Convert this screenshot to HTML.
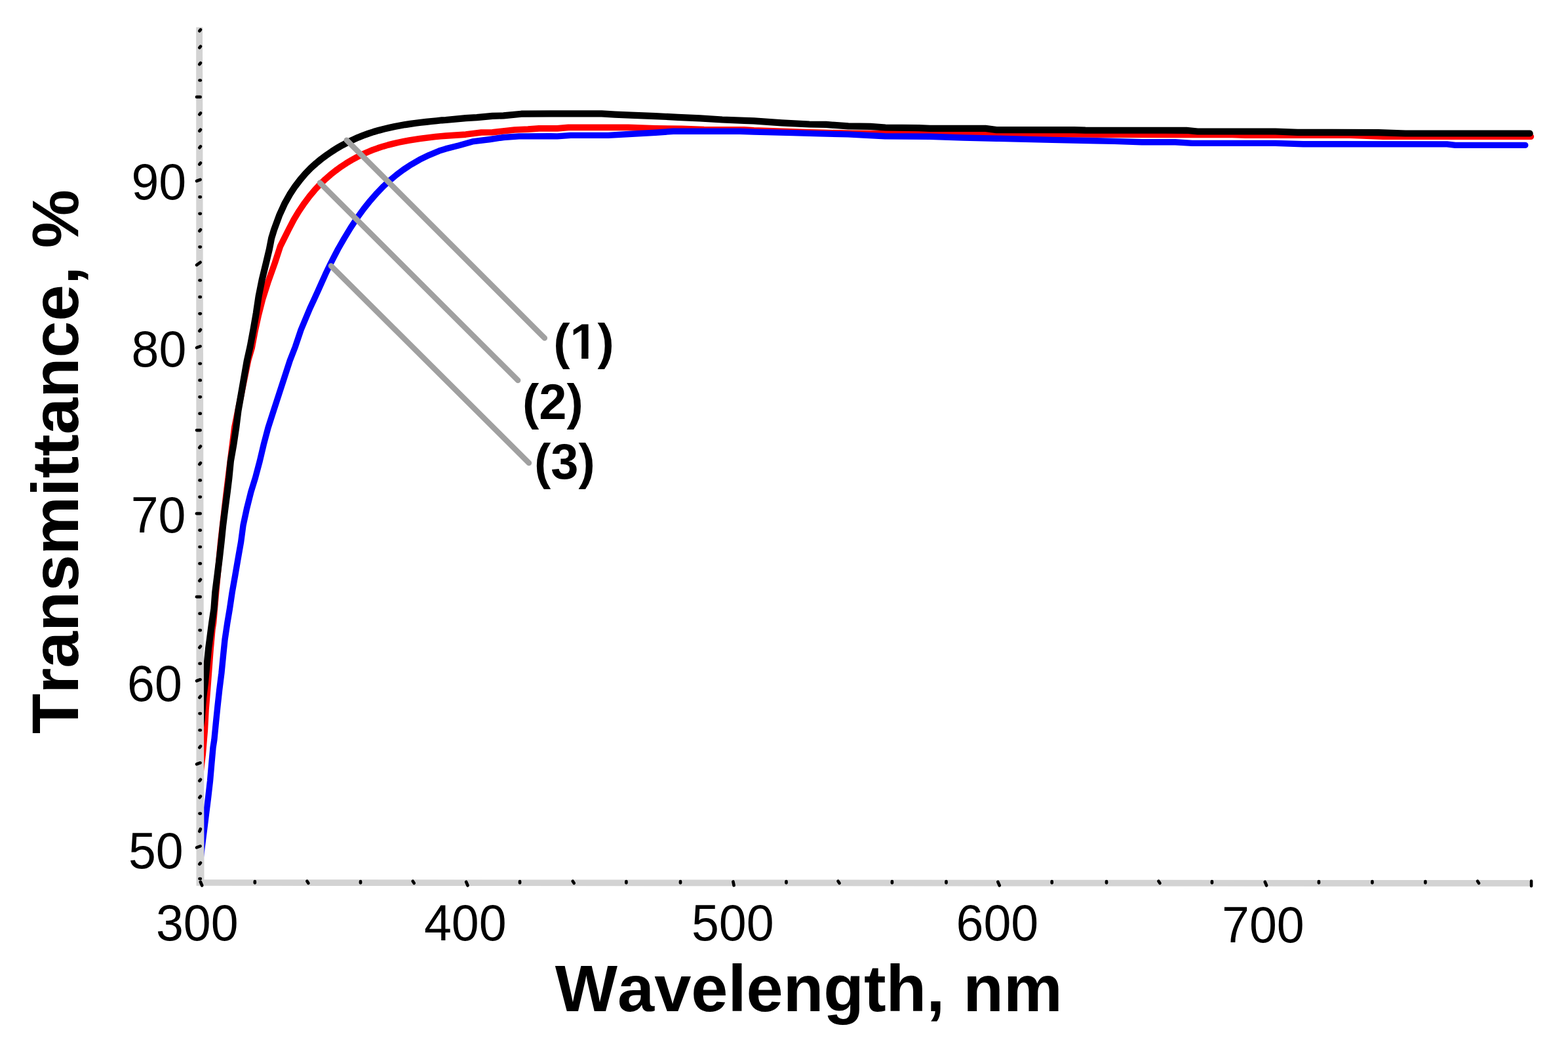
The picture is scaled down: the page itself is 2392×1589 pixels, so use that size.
<!DOCTYPE html>
<html><head><meta charset="utf-8"><title>Transmittance vs Wavelength</title>
<style>html,body{margin:0;padding:0;background:#fff;}svg{display:block;}text{font-kerning:none;}</style></head>
<body>
<svg width="2392" height="1589" viewBox="0 0 2392 1589">
<rect width="2392" height="1589" fill="#fff"/>
<g fill="none" stroke-linejoin="round" stroke-linecap="round" stroke-width="10">
<polyline stroke="#ff0000" stroke-width="9.6" points="305.4,1188.0 306.1,1177.0 309.3,1150.0 312.4,1113.0 314.0,1082.4 316.5,1051.8 318.8,1021.2 321.1,990.6 323.9,960.0 325.5,950.0 329.6,903.0 336.7,826.5 345.5,750.0 357.7,652.0 378.5,550.0 384.1,531.0 388.9,505.5 394.5,480.0 400.5,456.5 408.6,431.0 417.7,405.5 419.3,401.0 427.6,375.5 440.3,350.2 448.3,334.7 456.3,321.6 464.3,309.8 472.3,299.1 480.3,289.6 488.3,281.0 496.3,273.3 504.3,266.3 512.3,260.0 520.3,254.2 528.3,248.9 536.3,244.1 544.3,239.7 552.3,235.7 560.3,232.1 568.3,228.8 576.3,225.9 584.3,223.3 592.3,221.0 600.3,219.0 608.3,217.1 616.3,215.5 624.3,214.1 632.3,212.8 640.3,211.6 648.3,210.5 656.3,209.6 664.3,208.6 672.3,207.7 680.0,207.1 710.5,205.1 734.2,202.0 751.2,201.7 785.0,198.0 805.4,197.1 822.3,195.9 850.0,195.9 867.0,194.4 958.6,194.4 1000.0,195.8 1040.0,196.3 1074.0,197.6 1135.0,197.9 1150.0,198.9 1234.7,201.9 1300.0,203.3 1520.0,204.2 1700.0,205.2 1880.0,205.5 1900.0,206.2 2060.0,206.3 2110.0,208.3 2335.4,208.3"/>
<polyline stroke="#0000ff" stroke-width="9.4" points="305.0,1318.0 308.0,1293.0 311.2,1267.6 314.4,1242.0 317.6,1216.5 320.5,1191.0 322.7,1165.5 325.0,1140.0 326.8,1128.6 329.3,1103.0 331.9,1077.6 334.7,1052.0 337.9,1026.5 340.4,1001.0 343.0,975.5 346.8,950.0 350.4,928.6 354.2,903.0 358.7,877.6 363.1,852.0 367.6,826.5 371.0,801.0 376.5,775.5 382.9,750.0 389.5,728.6 396.3,703.0 402.3,677.6 409.1,652.0 417.3,626.5 425.6,601.0 433.9,575.5 442.2,550.0 450.5,528.6 459.1,503.0 468.7,480.0 472.9,470.0 479.2,456.5 485.0,443.8 490.7,431.0 496.4,418.3 502.5,405.5 508.9,392.8 515.6,380.0 519.6,373.0 525.0,363.6 535.0,347.1 545.0,332.0 555.0,318.3 565.0,305.8 575.0,294.4 585.0,284.1 595.0,274.8 605.0,266.5 615.0,259.0 625.0,252.3 640.0,243.6 655.0,236.3 670.0,230.1 680.0,226.9 700.3,221.8 720.7,215.9 747.8,212.5 768.1,209.5 791.8,207.9 840.0,207.8 850.0,207.9 870.5,206.4 928.0,206.4 955.2,204.7 1000.0,202.2 1027.0,200.3 1128.8,200.3 1150.0,201.1 1209.3,202.6 1251.7,203.9 1294.0,204.9 1350.0,207.7 1418.6,208.3 1469.4,210.0 1520.2,211.2 1605.0,213.4 1672.7,214.7 1700.0,215.4 1742.0,216.8 1793.0,216.8 1818.6,218.4 1945.6,218.4 1988.0,219.8 2207.5,219.9 2220.0,221.4 2326.8,221.4"/>
<polyline stroke="#000" stroke-width="10.2" points="305.0,1115.0 307.5,1098.0 310.0,1064.8 313.1,1039.3 315.6,1013.8 318.2,988.0 323.2,950.0 326.4,928.6 328.3,903.0 331.5,877.6 334.7,852.0 337.6,826.5 340.2,801.0 343.4,775.5 346.8,750.0 349.4,728.6 351.9,703.0 356.4,677.6 360.2,652.0 363.4,626.5 367.9,601.0 372.3,575.5 376.8,550.0 381.6,528.6 386.4,503.0 390.8,477.6 394.6,452.0 399.7,426.5 405.9,401.0 410.9,380.0 414.2,362.9 418.1,350.2 426.1,328.4 434.1,310.8 442.1,296.4 450.1,284.3 458.1,273.8 466.1,264.5 474.1,256.3 482.1,249.1 490.1,242.5 498.1,236.6 506.1,231.1 514.1,226.0 522.1,221.4 530.1,217.2 538.1,213.3 546.1,209.7 554.1,206.5 562.1,203.6 570.1,201.0 578.1,198.7 586.1,196.6 594.1,194.7 602.1,193.0 610.1,191.5 618.1,190.1 626.1,188.9 634.1,187.8 642.1,186.8 650.1,185.9 658.1,185.0 666.1,184.2 674.1,183.3 680.0,183.0 710.5,180.1 727.4,179.1 751.2,176.9 768.1,176.4 795.2,173.7 840.0,173.4 917.9,173.4 938.3,174.7 962.0,175.7 1000.0,177.1 1033.9,178.8 1067.8,180.3 1101.7,182.5 1135.5,183.9 1150.0,184.4 1192.4,187.4 1234.7,189.5 1260.1,189.9 1294.0,192.4 1327.9,192.9 1350.8,194.5 1401.7,195.1 1418.6,195.9 1503.3,195.9 1520.2,198.1 1638.8,198.1 1655.8,198.6 1810.0,198.8 1827.0,200.5 1945.6,200.5 1979.5,201.8 2103.0,202.1 2144.0,203.5 2333.7,203.5"/>
</g>
<g stroke="#a0a0a0" stroke-width="8.5" stroke-linecap="round">
<line x1="528.8" y1="213.8" x2="830.8" y2="515.6"/>
<line x1="488" y1="278.7" x2="790.1" y2="580.1"/>
<line x1="505" y1="405.4" x2="806.9" y2="706"/>
</g>
<polygon fill="#d3d3d3" points="299.2,41.5 309,41.5 311.5,1341.2 2333,1342 2333,1351.8 299.5,1350.8"/>
<g stroke="#000" stroke-width="4.7" stroke-linecap="round">
<line x1="304.5" y1="1340.0" x2="305.8" y2="1340.0"/>
<line x1="304.3" y1="1317.8" x2="306.0" y2="1315.8"/>
<line x1="300" y1="1292.4" x2="305.6" y2="1290.4"/>
<line x1="304.3" y1="1267.8" x2="305.9" y2="1264.2"/>
<line x1="304.5" y1="1240.6" x2="305.8" y2="1240.6"/>
<line x1="304.3" y1="1216.2" x2="306.0" y2="1214.2"/>
<line x1="304.3" y1="1190.8" x2="306.0" y2="1188.8"/>
<line x1="300" y1="1165.3" x2="305.6" y2="1163.3"/>
<line x1="304.3" y1="1139.9" x2="306.0" y2="1137.9"/>
<line x1="304.5" y1="1113.5" x2="305.8" y2="1113.5"/>
<line x1="304.5" y1="1088.1" x2="305.8" y2="1088.1"/>
<line x1="304.3" y1="1063.7" x2="306.0" y2="1061.7"/>
<line x1="300" y1="1038.3" x2="305.6" y2="1036.3"/>
<line x1="304.5" y1="1011.9" x2="305.8" y2="1011.9"/>
<line x1="304.3" y1="987.5" x2="306.0" y2="985.5"/>
<line x1="304.5" y1="961.1" x2="305.8" y2="961.1"/>
<line x1="304.5" y1="935.7" x2="305.8" y2="935.7"/>
<line x1="300" y1="910.2" x2="305.6" y2="910.2"/>
<line x1="304.3" y1="885.8" x2="306.0" y2="883.8"/>
<line x1="304.5" y1="859.4" x2="305.8" y2="859.4"/>
<line x1="304.5" y1="834.0" x2="305.8" y2="834.0"/>
<line x1="304.5" y1="808.6" x2="305.8" y2="808.6"/>
<line x1="300" y1="783.2" x2="305.6" y2="783.2"/>
<line x1="304.5" y1="757.8" x2="305.8" y2="757.8"/>
<line x1="304.5" y1="732.4" x2="305.8" y2="732.4"/>
<line x1="304.3" y1="708.0" x2="306.0" y2="706.0"/>
<line x1="304.3" y1="682.6" x2="306.0" y2="680.6"/>
<line x1="300" y1="656.1" x2="305.6" y2="656.1"/>
<line x1="304.5" y1="630.7" x2="305.8" y2="630.7"/>
<line x1="304.5" y1="605.3" x2="305.8" y2="605.3"/>
<line x1="304.5" y1="579.9" x2="305.8" y2="579.9"/>
<line x1="304.5" y1="554.5" x2="305.8" y2="554.5"/>
<line x1="300" y1="530.1" x2="305.6" y2="528.1"/>
<line x1="304.3" y1="504.7" x2="306.0" y2="502.7"/>
<line x1="304.5" y1="478.3" x2="305.8" y2="478.3"/>
<line x1="304.5" y1="452.9" x2="305.8" y2="452.9"/>
<line x1="304.5" y1="427.5" x2="305.8" y2="427.5"/>
<line x1="300" y1="404.1" x2="305.6" y2="400.1"/>
<line x1="304.5" y1="376.6" x2="305.8" y2="376.6"/>
<line x1="304.3" y1="352.2" x2="306.0" y2="350.2"/>
<line x1="304.5" y1="325.8" x2="305.8" y2="325.8"/>
<line x1="304.5" y1="300.4" x2="305.8" y2="300.4"/>
<line x1="300" y1="276.0" x2="305.6" y2="274.0"/>
<line x1="304.3" y1="250.6" x2="306.0" y2="248.6"/>
<line x1="304.3" y1="225.2" x2="306.0" y2="223.2"/>
<line x1="304.3" y1="199.8" x2="306.0" y2="197.8"/>
<line x1="304.3" y1="174.4" x2="306.0" y2="172.4"/>
<line x1="300" y1="147.9" x2="305.6" y2="147.9"/>
<line x1="304.5" y1="122.5" x2="305.8" y2="122.5"/>
<line x1="304.3" y1="98.1" x2="306.0" y2="96.1"/>
<line x1="304.3" y1="72.7" x2="306.0" y2="70.7"/>
<line x1="304.3" y1="47.3" x2="306.0" y2="45.3"/>
<line x1="305.8" y1="1344.8" x2="308.2" y2="1350.3"/>
<line x1="388.8" y1="1344.1" x2="388.8" y2="1346.3"/>
<line x1="468.4" y1="1343.8" x2="470.4" y2="1346.8"/>
<line x1="550.0" y1="1344.1" x2="550.0" y2="1346.3"/>
<line x1="629.7" y1="1343.8" x2="631.7" y2="1346.8"/>
<line x1="711.1" y1="1344.8" x2="713.5" y2="1350.3"/>
<line x1="793.0" y1="1344.1" x2="793.0" y2="1346.3"/>
<line x1="873.7" y1="1343.8" x2="875.7" y2="1346.8"/>
<line x1="955.4" y1="1344.1" x2="955.4" y2="1346.3"/>
<line x1="1038.0" y1="1344.1" x2="1038.0" y2="1346.3"/>
<line x1="1118.4" y1="1344.5" x2="1119.6" y2="1350.2"/>
<line x1="1199.5" y1="1344.1" x2="1199.5" y2="1346.3"/>
<line x1="1278.5" y1="1343.8" x2="1280.5" y2="1346.8"/>
<line x1="1360.9" y1="1344.1" x2="1360.9" y2="1346.3"/>
<line x1="1443.5" y1="1344.1" x2="1443.5" y2="1346.3"/>
<line x1="1522.3" y1="1344.8" x2="1524.7" y2="1350.3"/>
<line x1="1604.7" y1="1344.1" x2="1604.7" y2="1346.3"/>
<line x1="1688.0" y1="1344.1" x2="1688.0" y2="1346.3"/>
<line x1="1767.4" y1="1343.8" x2="1769.4" y2="1346.8"/>
<line x1="1848.9" y1="1344.1" x2="1848.9" y2="1346.3"/>
<line x1="1929.7" y1="1344.8" x2="1932.1" y2="1350.3"/>
<line x1="2011.9" y1="1344.1" x2="2011.9" y2="1346.3"/>
<line x1="2093.4" y1="1344.1" x2="2093.4" y2="1346.3"/>
<line x1="2174.4" y1="1344.1" x2="2174.4" y2="1346.3"/>
<line x1="2254.0" y1="1343.8" x2="2256.0" y2="1346.8"/>
<line x1="2336.0" y1="1343.6" x2="2336.0" y2="1351.1"/>
</g>
<g font-family="'Liberation Sans', Arial, sans-serif" font-size="78.2" fill="#000">
<text transform="translate(200.5,304.4) scale(0.963,1)" x="0" y="0">90</text>
<text transform="translate(200.6,559.3) scale(0.963,1)" x="0" y="0">80</text>
<text transform="translate(199.7,811.7) scale(0.963,1)" x="0" y="0">70</text>
<text transform="translate(194.1,1069.3) scale(0.963,1)" x="0" y="0">60</text>
<text transform="translate(195.9,1323.8) scale(0.963,1)" x="0" y="0">50</text>
<text transform="translate(238.0,1434.1) scale(0.963,1)" x="0" y="0">300</text>
<text transform="translate(647.0,1433.7) scale(0.963,1)" x="0" y="0">400</text>
<text transform="translate(1055.0,1434.1) scale(0.963,1)" x="0" y="0">500</text>
<text transform="translate(1458.6,1434.1) scale(0.963,1)" x="0" y="0">600</text>
<text transform="translate(1864.1,1437.2) scale(0.963,1)" x="0" y="0">700</text>
</g>
<g font-family="'Liberation Sans', Arial, sans-serif" font-weight="bold" fill="#000">
<text transform="translate(846.80,1541.7) scale(1.0024,1)" font-size="100.7">Wavelength, nm</text>
<text transform="translate(118.8,1119.03) rotate(-90) scale(0.9953,1)" font-size="100.7">Transmittance, %</text>
<text font-size="75.8" x="844.2" y="547.3">(1)</text>
<text font-size="75.8" x="797.0" y="639.4">(2)</text>
<text font-size="75.8" x="815.0" y="729.6">(3)</text>
</g>
<g fill="#fff"><rect x="873.5" y="538.9" width="13.63" height="9.4"/><rect x="897.53" y="538.9" width="13.2" height="9.4"/></g>
</svg>
</body></html>
